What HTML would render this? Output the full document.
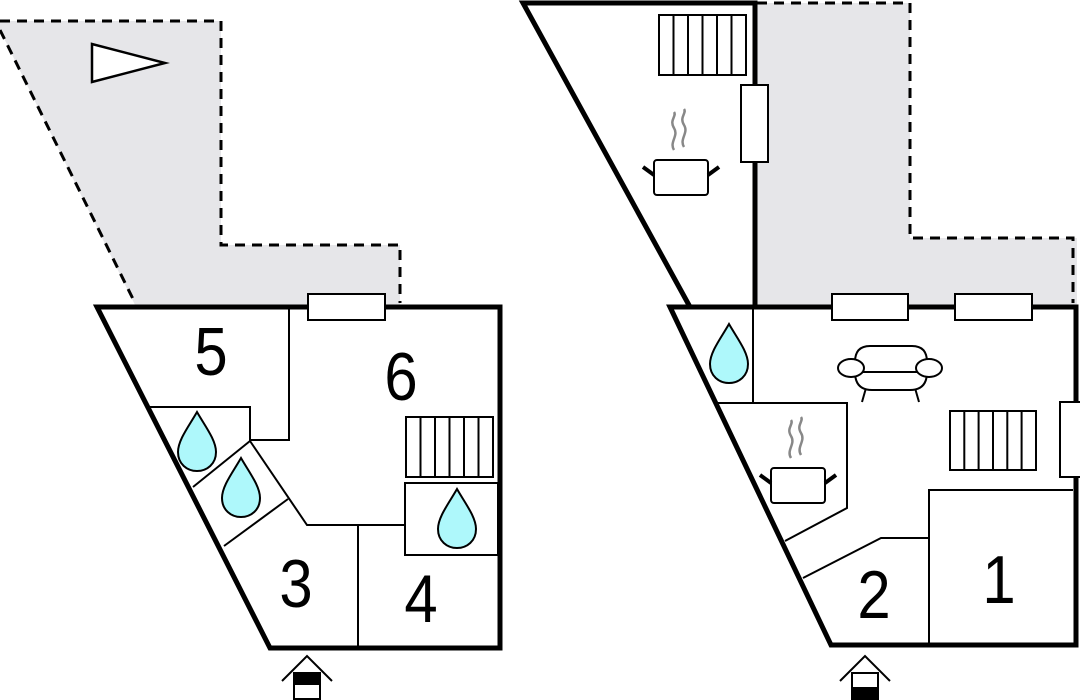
<!DOCTYPE html>
<html><head><meta charset="utf-8"><style>
html,body{margin:0;padding:0;background:#fff;width:1080px;height:700px;overflow:hidden}
svg{display:block}
text{font-family:"Liberation Sans",sans-serif;font-size:68px;fill:#000;text-anchor:middle}
</style></head><body>
<svg width="1080" height="700" viewBox="0 0 1080 700" xmlns="http://www.w3.org/2000/svg">
<defs>
<g id="drop"><path d="M0,-28 C8,-14 19,0 19,12 C19,24 10,31 0,31 C-10,31 -19,24 -19,12 C-19,0 -8,-14 0,-28Z" fill="#aef8fb" stroke="#000" stroke-width="2"/></g>
<g id="pot" fill="none" stroke="#000">
<rect x="-27" y="-17" width="54" height="35" rx="3" fill="#fff" stroke-width="2"/>
<line x1="-27" y1="-2" x2="-38" y2="-10" stroke-width="4"/><line x1="27" y1="-2" x2="38" y2="-10" stroke-width="4"/>
<path d="M-7,-27 c-5,-8 5,-14 0,-22 c-5,-8 3,-12 0,-16" stroke="#888" stroke-width="2.5"/>
<path d="M3,-30 c-5,-8 5,-14 0,-22 c-5,-8 3,-12 0,-16" stroke="#888" stroke-width="2.5"/>
</g>
</defs>
<polygon points="0,21 221,21 221,245 400,245 400,305 135,305 0,30" fill="#e6e6e9"/>
<polyline points="0,21 221,21 221,245 400,245 400,303" fill="none" stroke="#000" stroke-width="3" stroke-dasharray="10,7"/>
<line x1="0" y1="30" x2="135" y2="303" stroke="#000" stroke-width="3" stroke-dasharray="10,7"/>
<polygon points="92,44 92,82 165,63" fill="#fff" stroke="#000" stroke-width="2.5"/>
<rect x="757" y="3" width="320" height="302" fill="#e6e6e9"/>
<rect x="910" y="3" width="170" height="235" fill="#fff"/>
<polyline points="757,3 910,3 910,238 1073,238 1073,303" fill="none" stroke="#000" stroke-width="3" stroke-dasharray="10,7"/>

<polygon points="97,307 500,307 500,648 270,648" fill="#fff" stroke="#000" stroke-width="5"/>
<rect x="308" y="294" width="77" height="26" fill="#fff" stroke="#000" stroke-width="2"/>
<g fill="none" stroke="#000" stroke-width="2">
<polyline points="289,309 289,440 250,440"/>
<polyline points="150,407 250,407 250,441 307,525 405,525"/>
<line x1="193" y1="487" x2="250" y2="441"/>
<line x1="224" y1="546" x2="288" y2="499"/>
<line x1="358" y1="525" x2="358" y2="646"/>
<rect x="405" y="483" width="93" height="72"/>
<rect x="406" y="417" width="87" height="60"/>
<path d="M420.5,417v60M435,417v60M449.5,417v60M464,417v60M478.5,417v60"/>
</g>
<use href="#drop" x="197" y="440"/>
<use href="#drop" x="241" y="486"/>
<use href="#drop" x="457" y="517"/>
<text transform="translate(211,375) scale(0.88,1)">5</text>
<text transform="translate(401,400) scale(0.88,1)">6</text>
<text transform="translate(296,607) scale(0.88,1)">3</text>
<text transform="translate(421,622) scale(0.88,1)">4</text>
<polyline points="282,681 307,656 332,681" fill="none" stroke="#000" stroke-width="2"/>
<rect x="294" y="673" width="26" height="26" fill="#fff" stroke="#000" stroke-width="2"/>
<rect x="294" y="673" width="26" height="12" fill="#000"/>

<polygon points="523,3 755,3 755,307 690,307" fill="#fff" stroke="#000" stroke-width="5"/>
<polygon points="670,307 1076,307 1076,645 831,645" fill="#fff" stroke="#000" stroke-width="5"/>
<rect x="741" y="85" width="27" height="77" fill="#fff" stroke="#000" stroke-width="2"/>
<rect x="832" y="294" width="76" height="26" fill="#fff" stroke="#000" stroke-width="2"/>
<rect x="955" y="294" width="77" height="26" fill="#fff" stroke="#000" stroke-width="2"/>
<rect x="1060" y="402" width="22" height="75" fill="#fff" stroke="#000" stroke-width="2"/>
<g fill="none" stroke="#000" stroke-width="2">
<rect x="659" y="15" width="87" height="60"/>
<path d="M673.5,15v60M688,15v60M702.5,15v60M717,15v60M731.5,15v60"/>
<line x1="753" y1="309" x2="753" y2="403"/>
<polyline points="718,403 847,403 847,508 785,541"/>
<polyline points="803,578 881,538 929,538"/>
<polyline points="929,645 929,490 1073,490"/>
<rect x="950" y="411" width="86" height="59"/>
<path d="M964.3,411v59M978.6,411v59M993,411v59M1007.3,411v59M1021.6,411v59"/>
</g>
<use href="#pot" x="681" y="177"/>
<use href="#pot" x="798" y="485"/>
<use href="#drop" x="729" y="352"/>
<g fill="#fff" stroke="#000" stroke-width="2">
<line x1="866" y1="388" x2="862" y2="402"/><line x1="915" y1="388" x2="919" y2="402"/>
<path d="M855,372 L855,362 Q855,346 870,346 L912,346 Q927,346 927,362 L927,372 Q927,390 910,390 L872,390 Q855,390 855,372Z"/>
<line x1="862" y1="372" x2="920" y2="372"/>
<ellipse cx="851" cy="368" rx="13" ry="9"/>
<ellipse cx="929" cy="368" rx="13" ry="9"/>
</g>
<text transform="translate(874,618) scale(0.88,1)">2</text>
<text transform="translate(999,603) scale(0.88,1)">1</text>
<polyline points="840,681 865,656 890,681" fill="none" stroke="#000" stroke-width="2"/>
<rect x="852" y="673" width="26" height="26" fill="#fff" stroke="#000" stroke-width="2"/>
<rect x="852" y="687" width="26" height="13" fill="#000"/>
</svg>
</body></html>
